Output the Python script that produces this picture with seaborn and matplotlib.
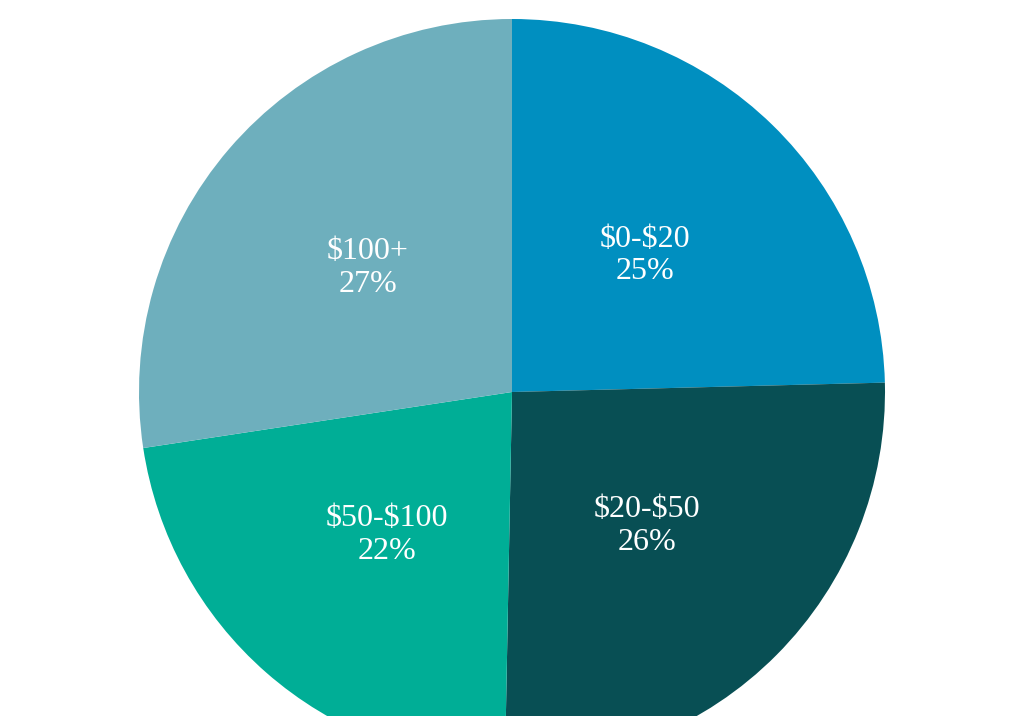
import matplotlib
matplotlib.use("Agg")
import matplotlib.pyplot as plt
import seaborn as sns

categories = ["$0-$20", "$20-$50", "$50-$100", "$100+"]
shares = [24.6, 25.7, 22.3, 27.4]
pct_labels = ["25%", "26%", "22%", "27%"]
colors = ["#008FC0", "#084F54", "#00AE96", "#6EAFBD"]

sns.set_theme(style="white")
plt.rcParams["font.family"] = ["Liberation Serif", "DejaVu Serif"]
plt.rcParams["text.parse_math"] = False

fig = plt.figure(figsize=(10.24, 7.16), dpi=100)
ax = fig.add_axes([0, 0, 1, 1])

labels = [f"{c}\n{p}" for c, p in zip(categories, pct_labels)]
wedges, texts = ax.pie(
    shares,
    colors=colors,
    labels=labels,
    labeldistance=0.51,
    startangle=90,
    counterclock=False,
    radius=1,
    wedgeprops=dict(linewidth=0),
    textprops=dict(color="white", fontsize=23, linespacing=1.15),
)
for t in texts:
    t.set_ha("center")
    t.set_va("center")

R = 373.0
ax.set_xlim(-512 / R, 512 / R)
ax.set_ylim(-324 / R, 392 / R)
ax.set_aspect("auto")
ax.axis("off")

fig.savefig("out.png", dpi=100, facecolor="white")
